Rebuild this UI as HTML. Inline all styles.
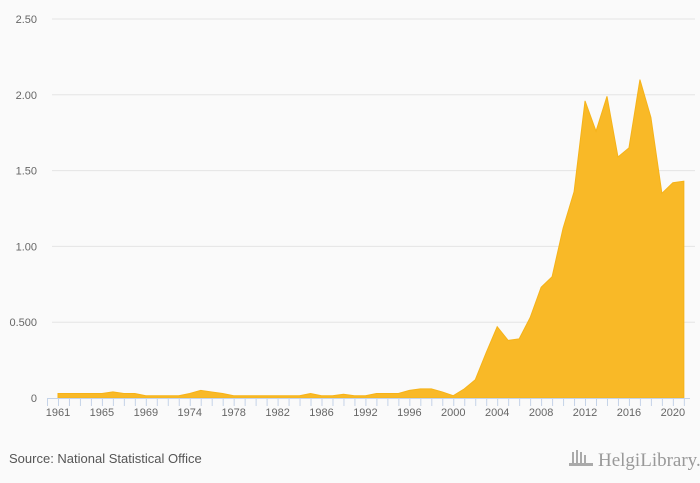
<!DOCTYPE html>
<html><head><meta charset="utf-8"><style>
body{margin:0;background:#fafafa;font-family:"Liberation Sans",sans-serif;}
svg{display:block}
</style></head><body>
<svg id="c" width="700" height="483">
<rect width="700" height="483" fill="#fafafa"/>
<g id="grid"></g><g id="area"></g><g id="axis"></g>
<text x="9" y="463" font-size="13" fill="#555">Source: National Statistical Office</text>
<g>
<text x="598" y="466" font-size="19" fill="#999" font-family="Liberation Serif,serif">HelgiLibrary.</text>
<g fill="#aaa"><rect x="572" y="452" width="2" height="12"/><rect x="576" y="450" width="2" height="14"/><rect x="580" y="452" width="2" height="12"/><rect x="584" y="455" width="2" height="9"/><rect x="569" y="463" width="24" height="3"/></g>
</g>
</svg>
<script>
const categories=[1961,1962,1963,1964,1965,1966,1967,1968,1969,1970,1971,1973,1974,1975,1976,1977,1978,1979,1980,1981,1982,1983,1984,1985,1986,1987,1989,1990,1992,1993,1994,1995,1996,1997,1998,1999,2000,2001,2002,2003,2004,2005,2006,2007,2008,2009,2010,2011,2012,2013,2014,2015,2016,2017,2018,2019,2020,2021];
const values=[0.03,0.03,0.03,0.03,0.03,0.04,0.03,0.03,0.015,0.015,0.015,0.015,0.03,0.05,0.04,0.03,0.015,0.015,0.015,0.015,0.015,0.015,0.015,0.03,0.015,0.015,0.025,0.015,0.015,0.03,0.03,0.03,0.05,0.06,0.06,0.04,0.015,0.06,0.12,0.30,0.47,0.38,0.39,0.53,0.73,0.80,1.12,1.36,1.96,1.76,1.99,1.59,1.65,2.10,1.85,1.35,1.42,1.43];
const yTicks=[0,0.5,1,1.5,2,2.5];
const yTickLabels=["0","0.500","1.00","1.50","2.00","2.50"];
const NS="http://www.w3.org/2000/svg";
const x=i=>58+i*10.98;
const y=v=>398-v*151.6;
function mk(t,a,p){const e=document.createElementNS(NS,t);for(const k in a)e.setAttribute(k,a[k]);p.appendChild(e);return e;}
const grid=document.getElementById('grid'),area=document.getElementById('area'),axis=document.getElementById('axis');
yTicks.forEach((t,i)=>{
 if(t>0){const l=mk('line',{x1:52,x2:695,y1:y(t),y2:y(t),stroke:'#e4e4e4'},grid);
 
 }
 const tx=mk('text',{x:37,y:y(t)+4,'font-size':11,fill:'#666','text-anchor':'end'},grid);
 tx.textContent=yTickLabels[i];
 
 
});
let d='M'+x(0)+','+y(0);
values.forEach((v,i)=>{d+=' L'+x(i)+','+y(v);});
d+=' L'+x(values.length-1)+','+y(0)+' Z';
const p=mk('path',{d:d,fill:'#f9b927',stroke:'#f5b31a','stroke-width':1},area);


const ax=mk('line',{x1:47,x2:690,y1:398.5,y2:398.5,stroke:'#c5d3e8'},axis);


for(let i=0;i<=categories.length;i++){
 const xx=47+i*10.98+0.5;
 const tk=mk('line',{x1:xx,x2:xx,y1:398,y2:406,stroke:'#c5d3e8'},axis);
 
 
}
categories.forEach((c,i)=>{
 if(i%4===0){const t=mk('text',{x:x(i),y:416,'font-size':11,fill:'#666','text-anchor':'middle'},axis);
 t.textContent=c;
 
 }
});
</script>
</body></html>
